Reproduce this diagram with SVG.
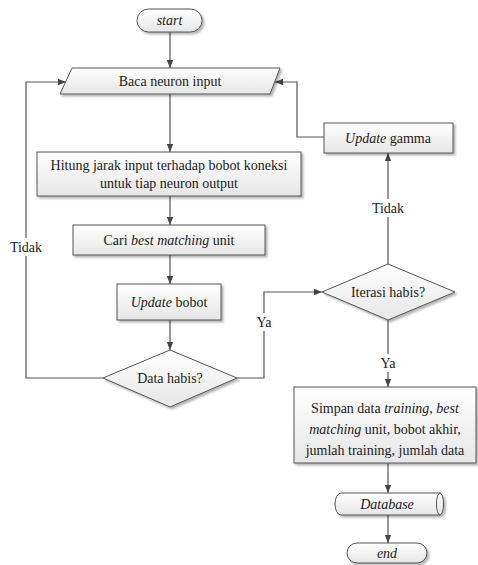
<svg xmlns="http://www.w3.org/2000/svg" width="478" height="565" viewBox="0 0 478 565">
<defs>
<linearGradient id="g" x1="0" y1="0" x2="0" y2="1">
<stop offset="0" stop-color="#ffffff"/>
<stop offset="1" stop-color="#e6e6e6"/>
</linearGradient>
<filter id="sh" x="-10%" y="-20%" width="130%" height="150%">
<feDropShadow dx="2" dy="2" stdDeviation="1" flood-color="#000" flood-opacity="0.3"/>
</filter>
<marker id="ah" viewBox="0 0 10 10" refX="10" refY="5" markerWidth="8" markerHeight="8" markerUnits="userSpaceOnUse" orient="auto">
<path d="M0,1 L10,5 L0,9 Z" fill="#444"/>
</marker>
</defs>
<style>
.shape{fill:url(#g);stroke:#555;stroke-width:1;filter:url(#sh)}
text{font-family:'Liberation Serif','Times New Roman','DejaVu Serif',serif;font-size:14px;fill:#222;text-anchor:middle}
.i{font-style:italic}
.c{fill:none;stroke:#555;stroke-width:1.2}
.lbl{fill:#fff}
</style>
<rect width="478" height="565" fill="#fff"/>
<g id="connectors">
<path class="c" d="M170,32 V68" marker-end="url(#ah)"/>
<path class="c" d="M170,94 V152" marker-end="url(#ah)"/>
<path class="c" d="M170,196 V225" marker-end="url(#ah)"/>
<path class="c" d="M170,255 V284" marker-end="url(#ah)"/>
<path class="c" d="M170,320 V350" marker-end="url(#ah)"/>
<path class="c" d="M103,378 H26 V82 H66" marker-end="url(#ah)"/>
<path class="c" d="M237,378 H264 V292 H322" marker-end="url(#ah)"/>
<path class="c" d="M388,264 V153" marker-end="url(#ah)"/>
<path class="c" d="M324,137 H297 V82 H275" marker-end="url(#ah)"/>
<path class="c" d="M388,320 V387" marker-end="url(#ah)"/>
<path class="c" d="M388,463 V493" marker-end="url(#ah)"/>
<path class="c" d="M388,515 V543" marker-end="url(#ah)"/>
<rect class="lbl" x="8" y="238" width="36" height="18"/>
<text font-family="Liberation Serif, serif" x="26" y="252">Tidak</text>
<rect class="lbl" x="370" y="199" width="36" height="18"/>
<text x="388" y="213">Tidak</text>
<rect class="lbl" x="253" y="313" width="22" height="18"/>
<text x="264" y="327">Ya</text>
<rect class="lbl" x="377" y="354" width="22" height="18"/>
<text x="388" y="368">Ya</text>
</g>
<g id="start">
<rect class="shape" x="137" y="9" width="65" height="23" rx="11.5"/>
<text class="i" x="169.5" y="25">start</text>
</g>
<g id="baca">
<path class="shape" d="M72,68 H280 L270,94 H60 Z"/>
<text x="170" y="86">Baca neuron input</text>
</g>
<g id="hitung">
<rect class="shape" x="37" y="152" width="264" height="44"/>
<text x="169" y="170">Hitung jarak input terhadap bobot koneksi</text>
<text x="169" y="188">untuk tiap neuron output</text>
</g>
<g id="cari">
<rect class="shape" x="73" y="225" width="192" height="30"/>
<text x="169" y="245">Cari <tspan class="i">best matching</tspan> unit</text>
</g>
<g id="updatebobot">
<rect class="shape" x="117" y="284" width="104" height="36"/>
<text x="169" y="307"><tspan class="i">Update</tspan> bobot</text>
</g>
<g id="datahabis">
<path class="shape" d="M170,350 L237,378 L170,407 L103,378 Z"/>
<text x="170" y="383">Data habis?</text>
</g>
<g id="iterasi">
<path class="shape" d="M388,264 L455,292 L388,320 L322,292 Z"/>
<text x="388" y="297">Iterasi habis?</text>
</g>
<g id="updategamma">
<rect class="shape" x="324" y="123" width="129" height="30"/>
<text x="388" y="143"><tspan class="i">Update</tspan> gamma</text>
</g>
<g id="simpan">
<rect class="shape" x="294" y="387" width="182" height="76"/>
<text x="385" y="413">Simpan data <tspan class="i">training</tspan>, <tspan class="i">best</tspan></text>
<text x="385" y="434"><tspan class="i">matching</tspan> unit, bobot akhir,</text>
<text x="385" y="455">jumlah training, jumlah data</text>
</g>
<g id="database">
<path class="shape" d="M341,493 H440 A3.5,11 0 0 1 440,515 H341 A6,11 0 0 1 341,493 Z"/>
<path fill="none" stroke="#555" stroke-width="1" d="M440,493 A3.5,11 0 0 0 440,515"/>
<text class="i" x="387" y="509">Database</text>
</g>
<g id="end">
<rect class="shape" x="347" y="543" width="80" height="20" rx="10"/>
<text class="i" x="387" y="558">end</text>
</g>
</svg>
